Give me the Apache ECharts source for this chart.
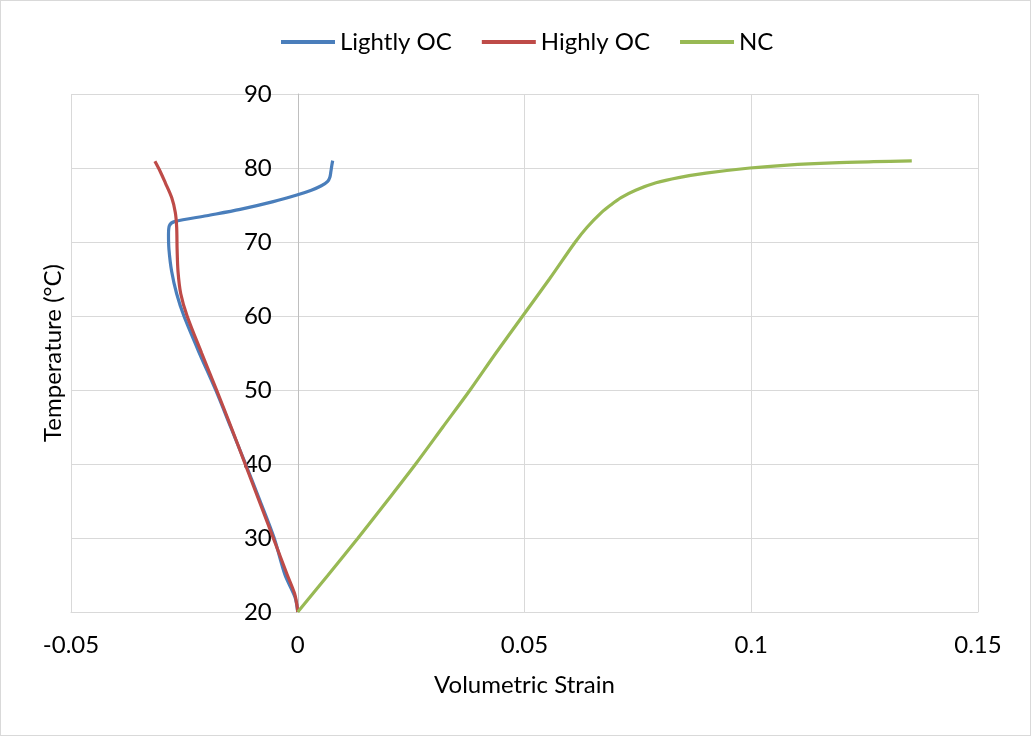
<!DOCTYPE html>
<html>
<head>
<meta charset="utf-8">
<script src="https://cdn.jsdelivr.net/npm/echarts@6/dist/echarts.min.js"></script>
<style>
  html, body { margin: 0; padding: 0; background: #fff; }
  #chart { width: 1029px; height: 734px; border: 1px solid #d9d9d9; }
</style>
</head>
<body>
<div id="chart"></div>
<script>
// Temperature (°C) against volumetric strain for three consolidation states
const seriesNames = ['Lightly OC', 'Highly OC', 'NC'];

const lightlyOcStrain = [0, -0.0006, -0.0028, -0.0052, -0.0083, -0.0115, -0.0148, -0.0181, -0.0217, -0.0251,
  -0.0267, -0.0278, -0.0284, -0.0285, -0.0283, -0.0272, -0.0201, -0.0127, -0.0054, -0.0002,
  0.0030, 0.0052, 0.0066, 0.0071, 0.0073, 0.0075, 0.0077];
const lightlyOcTemp = [20, 22, 25, 30, 35, 40, 45, 50, 55, 60,
  63, 66, 69, 71, 72.2, 72.75, 73.55, 74.4, 75.45, 76.35,
  77.0, 77.6, 78.2, 78.8, 79.5, 80.3, 81];

const highlyOcStrain = [0, -0.0002, -0.0007, -0.0023, -0.0054, -0.0085, -0.0116, -0.0147, -0.0179, -0.0212,
  -0.0244, -0.0258, -0.0264, -0.0266, -0.0267, -0.0270, -0.0278, -0.0292, -0.0303, -0.0315];
const highlyOcTemp = [20, 21, 22.5, 25, 30, 35, 40, 45, 50, 55,
  60, 63, 66, 69, 72, 74, 76, 78, 79.5, 80.9];

const ncStrain = [0, 0.0067, 0.0133, 0.0197, 0.0260, 0.0320, 0.0380, 0.0437, 0.0496, 0.0555,
  0.0612, 0.0638, 0.0670, 0.0690, 0.0713, 0.0745, 0.0790, 0.0840, 0.0900, 0.0997,
  0.1080, 0.1180, 0.1270, 0.1354];
const ncTemp = [20, 25, 30, 35, 40, 45, 50, 55, 60, 65,
  70, 72, 74, 75, 76, 77, 78, 78.7, 79.3, 80,
  80.4, 80.7, 80.85, 80.95];

const xTicks = { min: -0.05, max: 0.15, interval: 0.05 };
const yTicks = { min: 20, max: 90, interval: 10 };

const colors = ['#4a7ebb', '#be4b48', '#98b954'];
const font = 'Lato, "Open Sans", sans-serif';
const fontSize = 24;

const gridLeft = 70;
const gridRight = 52;
const plotWidth = 1029 - gridLeft - gridRight;
// the temperature axis sits where strain = 0
const yAxisShift = plotWidth * (0 - xTicks.min) / (xTicks.max - xTicks.min);

function pairs(xs, ys) { return xs.map((x, i) => [x, ys[i]]); }

const chart = echarts.init(document.getElementById('chart'));
chart.setOption({
  animation: false,
  backgroundColor: '#fff',
  color: colors,
  textStyle: { fontFamily: font, color: '#000' },
  legend: {
    top: 24,
    left: 275,
    itemWidth: 54,
    itemHeight: 4,
    itemGap: 30,
    icon: 'rect',
    textStyle: { fontSize: fontSize, color: '#000', fontFamily: font },
    data: seriesNames
  },
  grid: {
    left: gridLeft, right: gridRight, top: 93, bottom: 123,
    containLabel: false,
    outerBoundsMode: 'none'
  },
  xAxis: {
    type: 'value',
    min: xTicks.min, max: xTicks.max, interval: xTicks.interval,
    name: 'Volumetric Strain',
    nameLocation: 'middle',
    nameGap: 61,
    nameTextStyle: { fontSize: fontSize, color: '#000', fontFamily: font },
    axisLine: { onZero: false, lineStyle: { color: '#d9d9d9', width: 1 } },
    axisTick: { show: false },
    axisLabel: {
      fontSize: fontSize, color: '#000', margin: 21, fontFamily: font,
      formatter: v => String(Math.round(v * 100) / 100)
    },
    splitLine: { lineStyle: { color: '#d9d9d9', width: 1 } }
  },
  yAxis: {
    type: 'value',
    position: 'left',
    offset: -yAxisShift,
    min: yTicks.min, max: yTicks.max, interval: yTicks.interval,
    name: 'Temperature (°C)',
    nameLocation: 'middle',
    nameGap: 232,
    nameTextStyle: { fontSize: fontSize, color: '#000', fontFamily: font },
    axisLine: { show: true, onZero: false, lineStyle: { color: '#bfbfbf', width: 1 } },
    axisTick: { show: false },
    axisLabel: { fontSize: fontSize, color: '#000', margin: 26, fontFamily: font },
    splitLine: { lineStyle: { color: '#d9d9d9', width: 1 } }
  },
  series: [
    { name: seriesNames[0], data: pairs(lightlyOcStrain, lightlyOcTemp) },
    { name: seriesNames[1], data: pairs(highlyOcStrain, highlyOcTemp) },
    { name: seriesNames[2], data: pairs(ncStrain, ncTemp) }
  ].map(s => Object.assign({
    type: 'line',
    smooth: 0.3,
    showSymbol: false,
    symbol: 'none',
    lineStyle: { width: 3.2 }
  }, s))
});
</script>
</body>
</html>
